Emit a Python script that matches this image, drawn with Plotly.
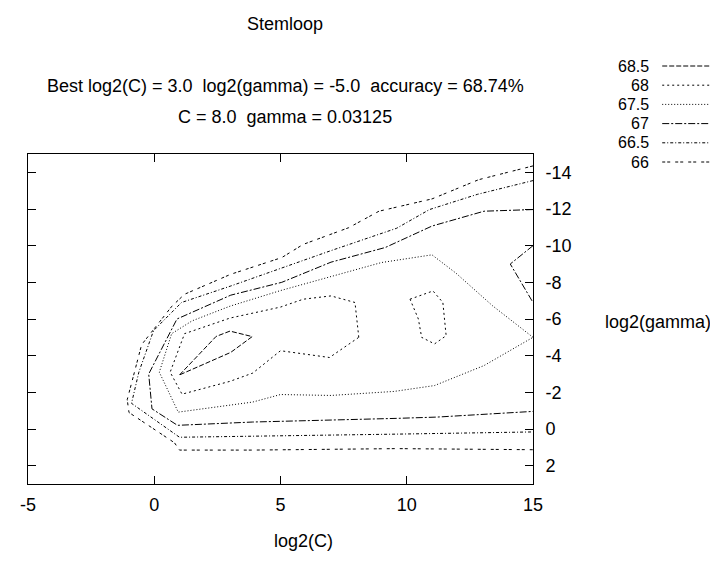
import plotly.graph_objects as go

# ---------------- data ----------------
levels = [68.5, 68, 67.5, 67, 66.5, 66]

# contour 68.5 (closed loop around the best point)
c685_x = [1.0, 2.45, 3.0, 3.88, 3.03, 1.0]
c685_y = [-2.95, -5.05, -5.34, -5.04, -4.18, -2.95]

# contour 68 (main loop)
c68a_x = [8.1, 7.95, 7.0, 5.9, 5.0, 3.0, 1.2, 0.63, 1.1, 3.0, 3.9, 5.0, 6.94, 8.1]
c68a_y = [-5.0, -6.9, -7.26, -7.08, -6.65, -6.05, -5.2, -3.1, -1.9, -2.6, -3.05, -4.27, -3.9, -5.0]
# contour 68 (small loop near log2(C)=11)
c68b_x = [10.13, 11.04, 11.43, 11.5, 11.56, 11.1, 10.59, 10.46, 10.13]
c68b_y = [-7.08, -7.53, -6.9, -6.0, -5.09, -4.64, -5.0, -6.0, -7.08]

# contour 67.5
c675_x = [15.0, 13.4, 11.95, 11.0, 9.0, 7.0, 5.0, 3.0, 1.5, 0.69, 0.2, 0.95, 3.9, 5.0, 7.0, 9.5, 11.1, 13.06, 15.0]
c675_y = [-5.0, -6.72, -8.5, -9.5, -9.08, -8.33, -7.55, -6.7, -5.9, -5.2, -3.1, -0.92, -1.47, -1.88, -1.83, -2.05, -2.37, -3.46, -5.0]

# contour 67 (main)
c67a_x = [15.0, 13.06, 11.0, 9.15, 7.0, 5.05, 3.03, 0.9, -0.22, -0.09, 0.92, 3.9, 9.6, 11.2, 15.0]
c67a_y = [-11.97, -11.88, -11.07, -9.9, -9.1, -8.0, -7.3, -6.0, -3.0, -1.1, -0.2, -0.38, -0.58, -0.65, -0.96]
# contour 67 (piece at the right edge)
c67b_x = [15.0, 14.1, 15.0]
c67b_y = [-10.0, -9.0, -6.9]

# contour 66.5
c665_x = [15.0, 12.8, 10.9, 9.6, 7.0, 5.0, 3.03, 1.08, -0.03, -0.61, -0.9, 1.0, 3.9, 9.6, 15.0]
c665_y = [-13.55, -12.8, -11.97, -10.95, -9.73, -8.76, -7.8, -6.9, -5.36, -3.1, -1.4, 0.45, 0.38, 0.28, 0.16]

# contour 66
c66_x = [15.0, 12.85, 11.0, 9.2, 8.9, 7.7, 5.9, 5.05, 3.03, 1.2, 0.7, -0.5, -1.07, -1.0, 0.8, 1.0, 3.9, 9.6, 15.0]
c66_y = [-14.35, -13.6, -12.55, -12.0, -11.88, -10.98, -10.07, -9.35, -8.44, -7.35, -6.7, -4.6, -1.6, -0.9, 0.75, 1.15, 1.15, 1.07, 1.13]

contours = [
    (68.5, c685_x, c685_y),
    (68, c68a_x, c68a_y),
    (68, c68b_x, c68b_y),
    (67.5, c675_x, c675_y),
    (67, c67a_x, c67a_y),
    (67, c67b_x, c67b_y),
    (66.5, c665_x, c665_y),
    (66, c66_x, c66_y),
]

x_ticks = [-5, 0, 5, 10, 15]
x_ticktext = ["-5", "0", "5", "10", "15"]
y_ticks = [-14, -12, -10, -8, -6, -4, -2, 0, 2]
y_ticktext = ["-14", "-12", "-10", "-8", "-6", "-4", "-2", "0", "2"]

title_text = "Stemloop"
best_text = "Best log2(C) = 3.0  log2(gamma) = -5.0  accuracy = 68.74%"
cg_text = "C = 8.0  gamma = 0.03125"
xlabel = "log2(C)"
ylabel = "log2(gamma)"

# ---------------- styling ----------------
dash_styles = {
    68.5: "5px,2px",
    68: "2px,3px",
    67.5: "1px,2px",
    67: "7px,2px,2px,2px",
    66.5: "3px,2px,1px,2px",
    66: "3px,2px,3px,5px",
}
FONT = "Liberation Sans, Arial, sans-serif"
FS = 18
FS_KEY = 16

OFF = 8                      # page body margin
W, H = 710, 575              # figure size
L, T = 21 - OFF, 154 - OFF   # plot area origin inside the figure
PW, PH = 512, 330
R, B = W - L - PW, H - T - PH


def px_x(p):
    return (p - OFF - L) / PW


def px_y(p):
    return (T + PH - (p - OFF)) / PH


fig = go.Figure()
for lev, xs, ys in contours:
    fig.add_trace(go.Scatter(
        x=xs, y=ys, mode="lines",
        line=dict(color="#000000", width=1, dash=dash_styles[lev]),
        showlegend=False, hoverinfo="skip",
    ))

annotations = [
    dict(text=title_text, x=px_x(282), y=px_y(24)),
    dict(text=best_text, x=px_x(282), y=px_y(86)),
    dict(text=cg_text, x=px_x(282), y=px_y(117)),
    dict(text=xlabel, x=px_x(300), y=px_y(541)),
    dict(text=ylabel, x=px_x(660), y=px_y(322)),
]
for a in annotations:
    a.update(xref="paper", yref="paper", showarrow=False,
             xanchor="center", yanchor="middle",
             font=dict(family=FONT, size=FS, color="black"))

shapes = []
row0, rowstep = 66, 19.2
for i, lev in enumerate(levels):
    yp = row0 + i * rowstep
    annotations.append(dict(
        text=f"{lev:g}", x=px_x(653), y=px_y(yp), xref="paper", yref="paper",
        showarrow=False, xanchor="right", yanchor="middle",
        font=dict(family=FONT, size=FS_KEY, color="black")))
    shapes.append(dict(
        type="line", xref="paper", yref="paper",
        x0=px_x(664), x1=px_x(712), y0=px_y(yp), y1=px_y(yp),
        line=dict(color="black", width=1, dash=dash_styles[lev])))

fig.update_layout(
    width=W, height=H,
    margin=dict(l=L, r=R, t=T, b=B, pad=0),
    paper_bgcolor="white", plot_bgcolor="white",
    font=dict(family=FONT, size=FS, color="black"),
    annotations=annotations, shapes=shapes,
    showlegend=False,
)
fig.update_xaxes(
    range=[-5, 15], tickvals=x_ticks, ticktext=x_ticktext,
    ticks="inside", ticklen=8, tickcolor="black", tickwidth=1,
    showline=True, linecolor="black", linewidth=1, mirror="ticks",
    showgrid=False, zeroline=False, ticklabelstandoff=4,
    tickfont=dict(family=FONT, size=FS),
)
fig.update_yaxes(
    range=[3, -15], tickvals=y_ticks, ticktext=y_ticktext,
    side="right",
    ticks="inside", ticklen=8, tickcolor="black", tickwidth=1,
    showline=True, linecolor="black", linewidth=1, mirror="ticks",
    showgrid=False, zeroline=False, ticklabelstandoff=8,
    tickfont=dict(family=FONT, size=FS),
)

fig.write_html("out.html")
